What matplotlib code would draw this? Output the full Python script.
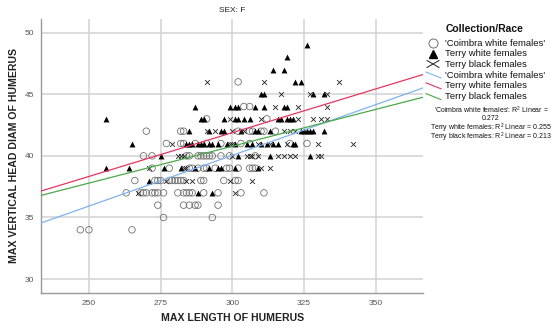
import numpy as np
import matplotlib
matplotlib.use('Agg')
import matplotlib.pyplot as plt

plt.rcParams['font.family'] = ['Liberation Sans', 'DejaVu Sans']
plt.rcParams['mathtext.default'] = 'regular'

# 'Coimbra white females' (open circles)
coimbra_x = [302,
             304, 306,
             291, 312,
             270, 282, 283, 302, 306, 307, 310, 311, 315,
             277, 282, 283, 287, 291, 296, 303, 306, 320, 326,
             269, 272, 284, 285, 288, 289, 290, 291, 292, 293, 296, 299, 308,
             272, 278, 285, 286, 288, 290, 291, 294, 298, 299, 302, 306, 307, 308,
             266, 273, 274, 275, 278, 279, 280, 281, 282, 283, 289, 290, 297, 301, 302,
             263, 268, 269, 270, 272, 273, 274, 276, 281, 283, 284, 285, 286, 290, 295, 303, 311,
             274, 283, 285, 287, 288, 295,
             276, 293,
             247, 250, 265]
coimbra_y = [46,
             44, 44,
             43, 43,
             42, 42, 42, 42, 42, 42, 42, 42, 42,
             41, 41, 41, 41, 41, 41, 41, 41, 41, 41,
             40, 40, 40, 40, 40, 40, 40, 40, 40, 40, 40, 40, 40,
             39, 39, 39, 39, 39, 39, 39, 39, 39, 39, 39, 39, 39, 39,
             38, 38, 38, 38, 38, 38, 38, 38, 38, 38, 38, 38, 38, 38, 38,
             37, 37, 37, 37, 37, 37, 37, 37, 37, 37, 37, 37, 37, 37, 37, 37, 37,
             36, 36, 36, 36, 36, 36,
             35, 35,
             34, 34, 34]

# Terry white females (filled triangles)
terry_white_x = [326,
                 319,
                 314, 318,
                 322, 324,
                 310, 311, 328, 332,
                 287, 299, 301, 302, 308, 311, 318, 319,
                 256, 289, 290, 297, 301, 302, 304, 306, 316, 317, 319, 320, 321,
                 285, 292, 296, 297, 303, 308, 309, 313, 324, 325, 326, 327, 328, 332,
                 265, 284, 285, 286, 288, 289, 290, 292, 293, 295, 298, 301, 305, 307,
                 310, 312, 314, 316, 321, 322,
                 275, 302, 313, 327,
                 256, 264, 276, 282, 287, 292, 295, 296, 301, 309,
                 271,
                 288, 293]
terry_white_y = [49,
                 48,
                 47, 47,
                 46, 46,
                 45, 45, 45, 45,
                 44, 44, 44, 44, 44, 44, 44, 44,
                 43, 43, 43, 43, 43, 43, 43, 43, 43, 43, 43, 43, 43,
                 42, 42, 42, 42, 42, 42, 42, 42, 42, 42, 42, 42, 42, 42,
                 41, 41, 41, 41, 41, 41, 41, 41, 41, 41, 41, 41, 41, 41,
                 41, 41, 41, 41, 41, 41,
                 40, 40, 40, 40,
                 39, 39, 39, 39, 39, 39, 39, 39, 39, 39,
                 38,
                 37, 37]

# Terry black females (crosses)
terry_black_x = [291, 311, 337,
                 317, 327, 333,
                 315, 323, 333,
                 299, 310, 323, 328, 331, 333,
                 291, 294, 300, 303, 304, 318, 320, 322,
                 279, 299, 300, 309, 313, 319, 330, 342,
                 281, 282, 283, 300, 305, 306, 307, 309, 316, 318, 320, 322, 330, 331,
                 271, 283, 284, 310, 313,
                 277, 284, 286, 299, 307,
                 267, 301]
terry_black_y = [46, 46, 46,
                 45, 45, 45,
                 44, 44, 44,
                 43, 43, 43, 43, 43, 43,
                 42, 42, 42, 42, 42, 42, 42, 42,
                 41, 41, 41, 41, 41, 41, 41, 41,
                 40, 40, 40, 40, 40, 40, 40, 40, 40, 40, 40, 40, 40, 40,
                 39, 39, 39, 39, 39,
                 38, 38, 38, 38, 38,
                 37, 37]

# linear fits: (intercept, slope)
fit_names = ["'Coimbra white females'", 'Terry white females', 'Terry black females']
fit_intercepts = [15.35, 20.58, 22.84]
fit_slopes = [0.0823, 0.0710, 0.0598]
fit_r2 = ['0.272', '0.255', '0.213']

x_ticks = [250, 275, 300, 325, 350]
y_ticks = [30, 35, 40, 45, 50]

FIT_COLORS = ['#7fb2ee', '#e6345f', '#4aa84a']
GRID = '#d2d2d2'
TICK_COLOR = '#555555'
TXT = '#111111'


def main():
    fig = plt.figure(figsize=(5.59, 3.31), dpi=100)
    ax = fig.add_axes([0.0739, 0.1157, 0.6831, 0.8269])

    xlim = (233.4, 366.5)
    ax.set_xlim(*xlim)
    ax.set_ylim(28.9, 51.1)

    ax.set_xticks(x_ticks)
    ax.set_yticks(y_ticks)
    ax.grid(True, color=GRID, linewidth=1.1)
    ax.set_axisbelow(True)
    ax.tick_params(length=0, labelsize=6, colors=TICK_COLOR, pad=5)
    for side in ['top', 'right']:
        ax.spines[side].set_visible(False)
    for side in ['left', 'bottom']:
        ax.spines[side].set_color('#9a9a9a')
        ax.spines[side].set_linewidth(1.0)

    ax.scatter(coimbra_x, coimbra_y, s=22, facecolors='none', edgecolors='#707070',
               linewidths=0.6, zorder=3)
    ax.scatter(terry_white_x, terry_white_y, s=18, marker='^', color='black',
               linewidths=0, zorder=3)
    ax.scatter(terry_black_x, terry_black_y, s=12, marker='x', color='#222222',
               linewidths=0.6, zorder=3)

    xs = np.array(xlim)
    for b0, b1, c in zip(fit_intercepts, fit_slopes, FIT_COLORS):
        ax.plot(xs, b0 + b1 * xs, color=c, linewidth=0.9, zorder=4)

    ax.set_xlabel('MAX LENGTH OF HUMERUS', fontsize=7.6, fontweight='bold',
                  color='#222222', va='center')
    ax.xaxis.set_label_coords(0.501, -0.092)
    ax.set_ylabel('MAX VERTICAL HEAD DIAM OF HUMERUS', fontsize=7.6, fontweight='bold',
                  color='#222222', va='center')
    ax.yaxis.set_label_coords(-0.0715, 0.4995)
    ax.set_title('SEX: F', fontsize=6, color='#222222', pad=5)

    # legend drawn in pixel space on the right
    lg = fig.add_axes([0, 0, 1, 1])
    lg.set_xlim(0, 559)
    lg.set_ylim(331, 0)
    lg.axis('off')
    lg.patch.set_alpha(0)

    lg.text(485, 29, 'Collection/Race', fontsize=7.5, fontweight='bold',
            ha='center', va='center', color=TXT)
    tx = 445
    fs = 6.8
    lg.plot([433], [43.3], marker='o', markersize=6.5, markerfacecolor='none',
            markeredgecolor='#707070', markeredgewidth=0.7)
    lg.text(tx, 43.3, fit_names[0], fontsize=fs, va='center', color=TXT)
    lg.plot([433], [53.8], marker='^', markersize=5.5, color='black', linewidth=0)
    lg.text(tx, 53.8, fit_names[1], fontsize=fs, va='center', color=TXT)
    lg.plot([427, 439], [60.5, 67.5], color='#222222', linewidth=0.7)
    lg.plot([427, 439], [67.5, 60.5], color='#222222', linewidth=0.7)
    lg.text(tx, 64.3, fit_names[2], fontsize=fs, va='center', color=TXT)
    for i, c in enumerate(FIT_COLORS):
        yy = 75 + 10.8 * i
        lg.plot([426, 441], [yy - 3, yy + 3], color=c, linewidth=0.8)
        lg.text(tx, yy, fit_names[i], fontsize=fs, va='center', color=TXT)

    rs = 5.0
    lg.text(491, 110, fit_names[0] + ': R$^2$ Linear =', fontsize=rs,
            ha='center', va='center', color=TXT)
    lg.text(491, 118.5, fit_r2[0], fontsize=rs, ha='center', va='center', color=TXT)
    lg.text(491, 128.0, fit_names[1] + ': R$^2$ Linear = ' + fit_r2[1], fontsize=rs,
            ha='center', va='center', color=TXT)
    lg.text(491, 137.2, fit_names[2] + ': R$^2$ Linear = ' + fit_r2[2], fontsize=rs,
            ha='center', va='center', color=TXT)

    fig.savefig('out.png', dpi=100)
    plt.close(fig)


if __name__ == '__main__':
    main()
